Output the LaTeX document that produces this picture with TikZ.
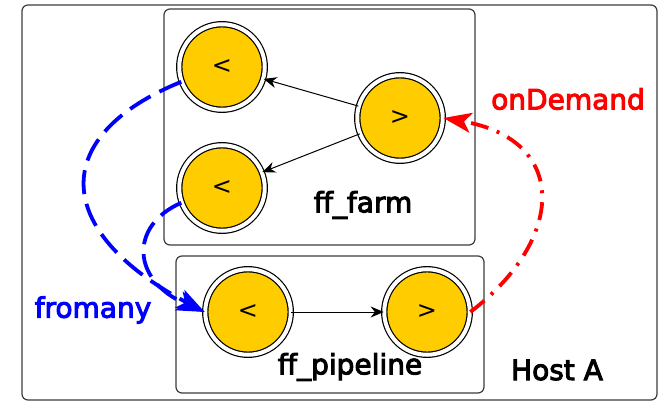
\documentclass[tikz,border=0pt]{standalone}
\usepackage{fontspec}
\setmainfont{DejaVu Sans}
\newfontface\labelfont[FakeBold=3.5]{DejaVu Sans}
\usetikzlibrary{arrows.meta}

\definecolor{ffyellow}{RGB}{255,204,0}
\definecolor{boxgray}{RGB}{60,60,60}

\tikzset{
  proc/.style={circle, draw=black, line width=1.2pt, double=white,
    double distance=4pt, fill=ffyellow, minimum size=85.5pt,
    inner sep=0pt, font=\fontsize{24}{24}\selectfont},
  group/.style={draw=boxgray, line width=1.2pt, rounded corners=6pt},
  lbl/.style={font=\labelfont\fontsize{28}{28}\selectfont, inner sep=0pt},
  chan/.style={-{Stealth[length=13pt,width=11pt]}, line width=1pt},
  big tip/.style={-{Stealth[length=28pt,width=20pt,inset=7pt]}, line width=3.8pt},
}

\begin{document}
\begin{tikzpicture}[x=1pt,y=-1pt]
        \useasboundingbox (0,0) rectangle (660,403);

        % host, farm and pipeline boxes
        \draw[group] (22,5) rectangle (657,400);
        \draw[group] (164,9) rectangle (475,245);
        \draw[group] (176,256) rectangle (484,393);

        % farm: emitter and two workers
        \node[proc] (fw1) at (222,67) {<};
        \node[proc] (fw2) at (222,188) {<};
        \node[proc] (fem) at (400,118) {>};

        % pipeline stages
        \node[proc] (pin) at (248,312) {<};
        \node[proc] (pout) at (427,312) {>};

        \draw[chan] (fem) -- (fw1);
        \draw[chan] (fem) -- (fw2);
        \draw[chan] (pin) -- (pout);

        % channels between the two groups
        \draw[big tip, blue, dash pattern=on 24pt off 10pt]
            (fw1.200) .. controls (50,135) and (50,230) .. (pin.west);
        \draw[big tip, blue, dash pattern=on 24pt off 10pt]
            (fw2.200) .. controls (130,225) and (130,280) .. (pin.west);
        \draw[big tip, red, dash pattern=on 18pt off 9pt on 3pt off 9pt]
            (pout.east) .. controls (565,240) and (570,140) .. (fem.east);

        % labels
        \node[lbl] (farmlbl) at (363,205) {ff\_farm};
        \node[lbl] (pipelbl) at (350,367) {ff\_pipeline};
        \node[lbl] (hostlbl) at (557,370) {Host A};
        \node[lbl, red] (demandlbl) at (568,99) {onDemand};
        \node[lbl, blue] (anylbl) at (93,310) {fromany};
    \end{tikzpicture}
\end{document}
